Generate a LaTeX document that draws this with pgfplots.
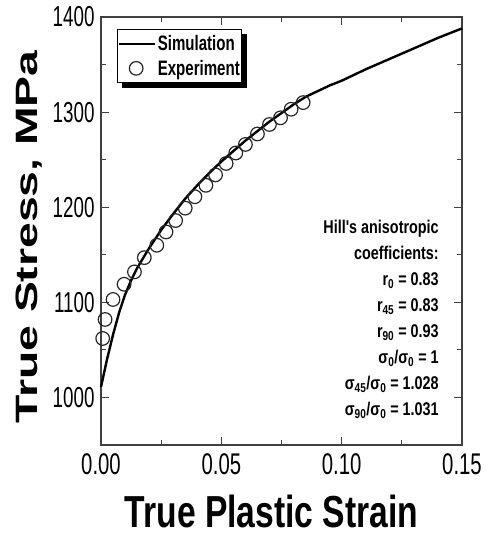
\documentclass[border=0pt]{standalone}
\usepackage{fontspec}
\setmainfont{Liberation Sans}
\newfontfamily\narrowbf{Liberation Sans Bold}[FakeStretch=0.78]
\newfontfamily\legfont{Liberation Sans Bold}[FakeStretch=0.72]
\newfontfamily\xlabfont{Liberation Sans Bold}[FakeStretch=0.75]
\newfontfamily\ylabfont{Liberation Sans Bold}[FakeStretch=1.5]
\newfontfamily\xtickfont{Liberation Sans}[FakeStretch=0.68]
\newfontfamily\ytickfont{Liberation Sans}[FakeStretch=0.65]
\usepackage{pgfplots}
\pgfplotsset{compat=1.18}
\usetikzlibrary{calc,shadows}
% basic-layer line so the legend shadow preaction does not copy it
\pgfplotsset{
  simline/.style={legend image code/.code={%
    \pgfsetlinewidth{2.4bp}\pgfsetstrokecolor{black}%
    \pgfpathmoveto{\pgfpoint{-0.12cm}{0cm}}\pgfpathlineto{\pgfpoint{1.15cm}{0cm}}%
    \pgfusepath{stroke}}},
  expmark/.style={legend image code/.code={\draw[##1] plot coordinates {(0.5cm,0cm)};}},
}

\begin{document}
\begin{tikzpicture}
\begin{axis}[
  scale only axis,
  width=361bp, height=428bp,
  xmin=0, xmax=0.15,
  ymin=950, ymax=1400,
  xtick={0,0.05,0.1,0.15},
  ytick={1000,1100,1200,1300,1400},
  minor x tick num=1,
  minor y tick num=1,
  xticklabels={0.00,0.05,0.10,0.15},
  tick align=inside,
  major tick length=8bp,
  minor tick length=5bp,
  axis line style={line width=1.2bp, black!75},
  every tick/.style={line width=1bp, black!75},
  /pgf/number format/assume math mode=true,
  /pgf/number format/set thousands separator={},
  xticklabel style={font=\xtickfont\fontsize{30}{30}\selectfont, yshift=-5bp},
  yticklabel style={font=\ytickfont\fontsize{29}{29}\selectfont, xshift=-3bp},
  xlabel={True Plastic Strain},
  ylabel={True Stress, MPa},
  xlabel style={font=\xlabfont\fontsize{45}{45}\selectfont, yshift=-13bp, xshift=-10bp},
  ylabel style={font=\ylabfont\fontsize{31}{31}\selectfont, yshift=4bp, xshift=-6bp},
  legend cell align=left,
  legend style={at={(0,1)}, xshift=16bp, yshift=-12bp, anchor=north west,
    draw=black, fill=white, line width=0.8bp,
    font=\legfont\fontsize{21}{23}\selectfont,
    inner xsep=0bp, inner ysep=4bp, row sep=4bp,
    nodes={inner xsep=2bp},
    drop shadow={shadow xshift=5bp, shadow yshift=-5bp, fill=black, opacity=1}},
  clip=false,
]
\addplot[black, line width=2.4bp, no marks, simline] coordinates {
  (0.000,1011) (0.0025,1040) (0.005,1066) (0.0075,1089) (0.010,1108)
  (0.0125,1123) (0.015,1136) (0.020,1157) (0.025,1176)
  (0.030,1193) (0.035,1209) (0.040,1223) (0.045,1236) (0.050,1248)
  (0.055,1259) (0.060,1270) (0.065,1280) (0.070,1290) (0.075,1299)
  (0.080,1308) (0.085,1316) (0.090,1322) (0.095,1328) (0.100,1333)
  (0.110,1345) (0.120,1356) (0.130,1367) (0.140,1378) (0.150,1388)
};
\addlegendentry{Simulation}
\addplot[only marks, mark=o, mark size=6.8bp, mark options={line width=1.2bp, black!85}, expmark] coordinates {
  (0.0007,1062) (0.0017,1082) (0.0050,1103) (0.0096,1119) (0.0139,1132)
  (0.0180,1147) (0.0232,1160) (0.0270,1174) (0.0310,1186) (0.0350,1199)
  (0.0390,1211) (0.0436,1223) (0.0476,1234) (0.0520,1246) (0.0560,1257)
  (0.0600,1266) (0.0650,1277) (0.0700,1287) (0.0746,1294) (0.0790,1303)
  (0.0840,1310)
};
\addlegendentry{Experiment}
\node[anchor=north east, align=right, inner sep=0pt,
  font=\narrowbf\fontsize{18.5}{26.2}\selectfont]
  at (axis cs:0.1404,1187) {Hill's anisotropic\\coefficients:\\
  r\textsubscript{0} = 0.83\\r\textsubscript{45} = 0.83\\r\textsubscript{90} = 0.93\\
  σ\textsubscript{0}/σ\textsubscript{0} = 1\\σ\textsubscript{45}/σ\textsubscript{0} = 1.028\\
  σ\textsubscript{90}/σ\textsubscript{0} = 1.031};
\end{axis}
\pgfresetboundingbox
\path[use as bounding box] ($(current axis.south west)+(-101bp,-92bp)$) rectangle ($(current axis.north east)+(25bp,17bp)$);
\end{tikzpicture}
\end{document}
